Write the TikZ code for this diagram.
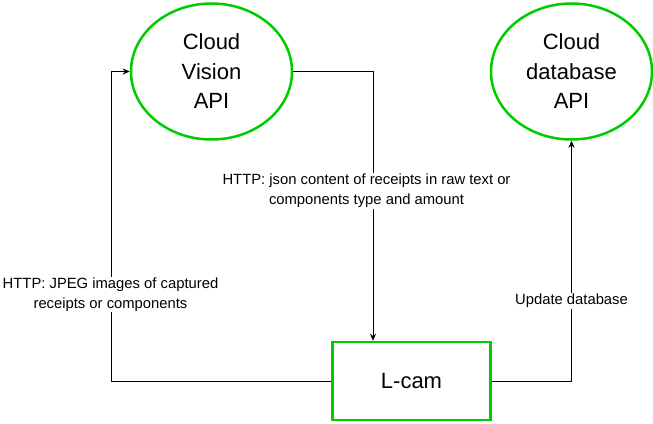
\documentclass[tikz,border=0pt]{standalone}
\usepackage{fontspec}
\setmainfont{Liberation Sans}
\usetikzlibrary{shapes.geometric,arrows.meta}
\definecolor{nodegreen}{HTML}{00CC00}
\begin{document}
\begin{tikzpicture}[x=1pt,y=-1pt,
  cloud/.style={ellipse,draw=nodegreen,line width=2.5pt,minimum width=161pt,minimum height=136pt,align=center,font=\fontsize{22}{29.5}\selectfont,inner sep=0pt},
  camera/.style={rectangle,draw=nodegreen,line width=2.5pt,minimum width=158pt,minimum height=78pt,font=\fontsize{22}{26}\selectfont},
  conn/.style={draw=black,line width=0.8pt,-{Stealth[length=7pt,width=6pt]}},
  lbl/.style={fill=white,align=center,font=\fontsize{14.8}{20}\selectfont,inner sep=1pt}]
\useasboundingbox (0,0) rectangle (653,423);
\node[cloud] (vision) at (211.5,71.5) {Cloud\\Vision\\API};
\node[cloud] (db) at (571.5,71.5) {Cloud\\database\\API};
\node[camera] (lcam) at (411.5,381) {L-cam};
\coordinate (c1) at (111,381);
\coordinate (c2) at (111,71.5);
\coordinate (c3) at (373,71.5);
\coordinate (c4) at (571.5,381);
\draw[conn] (lcam.west) -- (c1) -- (c2) -- (vision.west);
\draw[conn] (vision.east) -- (c3) -- (c3 |- lcam.north);
\draw[conn] (lcam.east) -- (c4) -- (db.south);
\node[lbl] (l1) at (366.5,191) {HTTP: json content of receipts in raw text or\\components type and amount};
\node[lbl] (l2) at (110.5,294.5) {HTTP: JPEG images of captured\\receipts or components};
\node[lbl] (l3) at (571.5,301) {Update database};
\end{tikzpicture}
\end{document}
